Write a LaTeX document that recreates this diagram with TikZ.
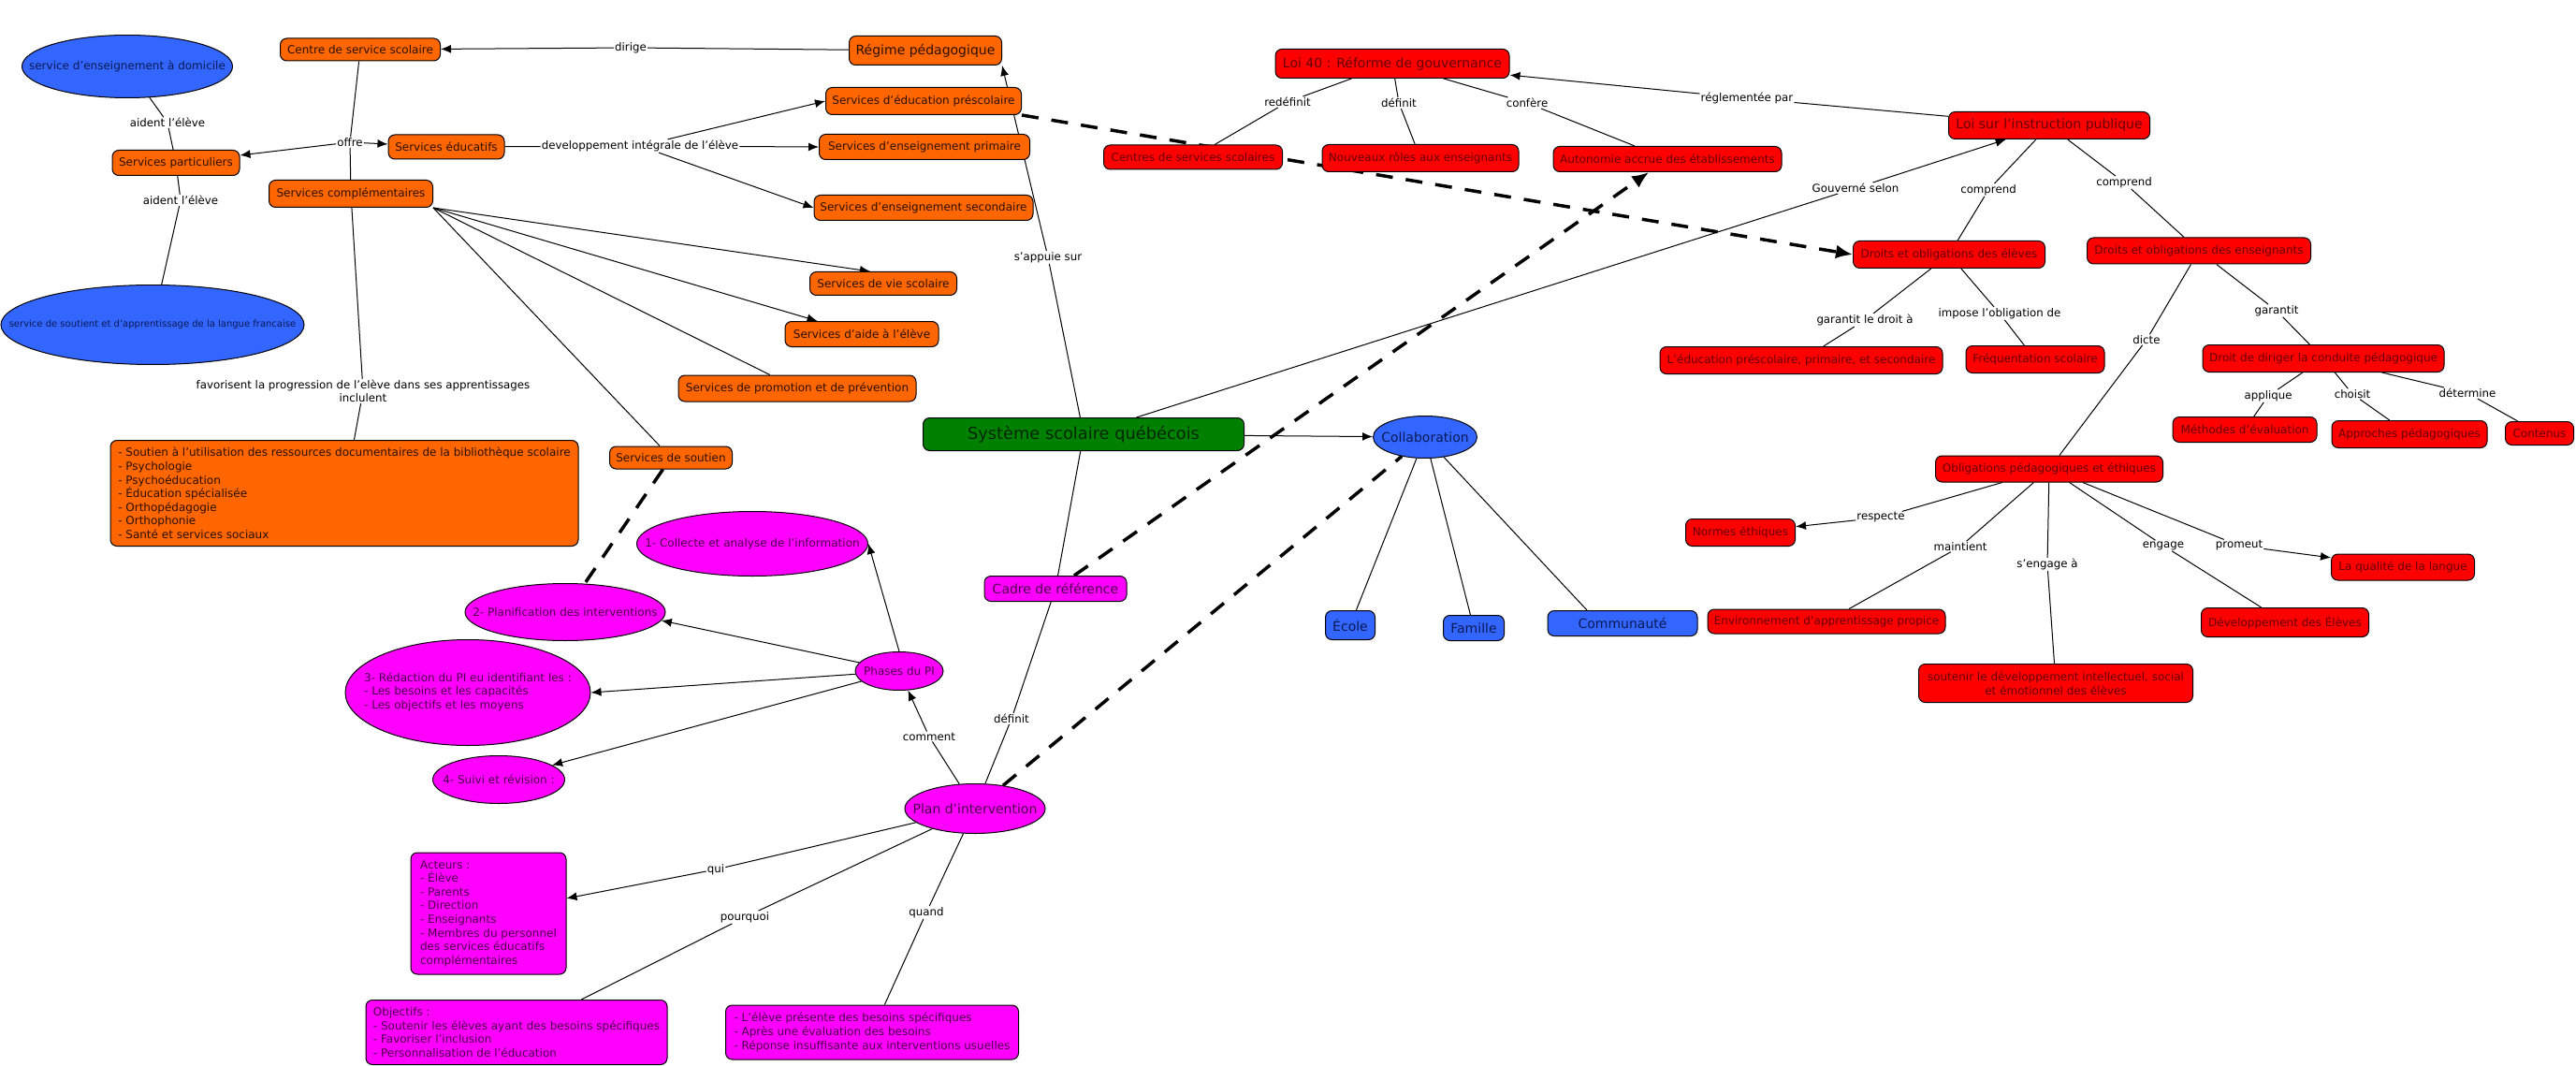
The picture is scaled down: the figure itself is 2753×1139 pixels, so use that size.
\documentclass[tikz,border=0pt]{standalone}
\usepackage{fontspec}
\setmainfont{DejaVu Sans}
\usetikzlibrary{shapes.geometric,arrows.meta}
\pgfdeclarelayer{bg}
\pgfsetlayers{bg,main}
\definecolor{orF}{HTML}{FF6600}
\definecolor{orT}{HTML}{2A1000}
\definecolor{rdF}{HTML}{FF0000}
\definecolor{rdT}{HTML}{660000}
\definecolor{blF}{HTML}{3366FF}
\definecolor{blT}{HTML}{0A1A55}
\definecolor{mgF}{HTML}{FF00FF}
\definecolor{mgT}{HTML}{4D004D}
\definecolor{grF}{HTML}{008000}
\definecolor{grT}{HTML}{002800}
\newcommand{\zb}[1]{\makebox[0pt][c]{#1}}
\newcommand{\zbl}[1]{\makebox[0pt][c]{\begin{tabular}{@{}l@{}}#1\end{tabular}}}
\tikzset{
 nbase/.style={draw=black, line width=1pt, inner sep=2pt, font=\fontsize{12}{14.6}\selectfont},
 rbox/.style={nbase, rectangle, rounded corners=7pt},
 ell/.style={nbase, ellipse, inner sep=0pt},
 obox/.style={rbox, fill=orF, text=orT},
 rdbox/.style={rbox, fill=rdF, text=rdT},
 blbox/.style={rbox, fill=blF, text=blT},
 blell/.style={ell, fill=blF, text=blT},
 mgbox/.style={rbox, fill=mgF, text=mgT},
 mgell/.style={ell, fill=mgF, text=mgT},
 bigt/.style={font=\fontsize{14}{17}\selectfont},
 lbl/.style={inner sep=1pt, font=\fontsize{11.8}{14.4}\selectfont, text=black},
 ln/.style={line width=1pt},
 arr/.style={ln, -{Latex[length=11pt,width=9pt]}},
 dsh/.style={line width=3.5pt, dash pattern=on 18pt off 14pt},
 darr/.style={dsh, -{Latex[length=18pt,width=15pt]}},
}
\begin{document}
\begin{tikzpicture}[x=1pt,y=-1pt]
\useasboundingbox (0,0) rectangle (2753,1139);
% ---------- orange ----------
\node[obox, minimum width=171, minimum height=24] (centre) at (385,53) {Centre de service scolaire};
\node[obox, bigt, minimum width=163, minimum height=31] (regime) at (989,54) {Régime pédagogique};
\node[obox, minimum width=136, minimum height=27] (partic) at (188,174) {Services particuliers};
\node[obox, minimum width=124, minimum height=26] (educ) at (477,157) {Services éducatifs};
\node[obox, minimum width=175, minimum height=29] (compl) at (375,207) {Services complémentaires};
\node[obox, minimum width=209, minimum height=29] (presco) at (987,108) {Services d’éducation préscolaire};
\node[obox, minimum width=225, minimum height=27] (primaire) at (988,157) {Services d’enseignement primaire};
\node[obox, minimum width=234, minimum height=27] (second) at (987,222) {Services d’enseignement secondaire};
\node[obox, minimum width=157, minimum height=25] (vie) at (944,303) {Services de vie scolaire};
\node[obox, minimum width=164, minimum height=27] (aide) at (921,357) {Services d'aide à l'élève};
\node[obox, minimum width=254, minimum height=28] (promo) at (852,415) {Services de promotion et de prévention};
\node[obox, minimum width=131, minimum height=24] (soutien) at (717,489) {Services de soutien};
\node[obox, minimum width=500, minimum height=113, align=left] (liste) at (368,527) {- Soutien à l'utilisation des ressources documentaires de la bibliothèque scolaire\\- Psychologie\\- Psychoéducation\\- Éducation spécialisée\\- Orthopédagogie\\- Orthophonie\\- Santé et services sociaux};
% ---------- blue ----------
\node[blell, minimum width=225, minimum height=67] (domicile) at (136,71) {\zb{service d'enseignement à domicile}};
\node[blell, minimum width=324, minimum height=85, font=\fontsize{10}{12}\selectfont] (soutient) at (163,347) {\zb{service de soutient et d'apprentissage de la langue francaise}};
\node[blell, bigt, minimum width=111, minimum height=45] (collab) at (1523,467) {\zb{Collaboration}};
\node[blbox, bigt, minimum width=53, minimum height=31] (ecole) at (1443,668) {École};
\node[blbox, bigt, minimum width=65, minimum height=27] (famille) at (1575,671) {Famille};
\node[blbox, bigt, minimum width=160, minimum height=27] (communaute) at (1734,666) {Communauté};
% ---------- green ----------
\node[rbox, fill=grF, text=grT, font=\fontsize{17.8}{20}\selectfont, minimum width=343, minimum height=35] (systeme) at (1158,464) {Système scolaire québécois};
% ---------- magenta ----------
\node[mgbox, bigt, minimum width=152, minimum height=27] (cadre) at (1128,629) {Cadre de référence};
\node[mgell, bigt, minimum width=150, minimum height=53] (plan) at (1042,864) {\zb{Plan d'intervention}};
\node[mgell, minimum width=94, minimum height=41] (phases) at (961,717) {\zb{Phases du PI}};
\node[mgell, minimum width=247, minimum height=69] (collecte) at (804,581) {\zb{1- Collecte et analyse de l'information}};
\node[mgell, minimum width=214, minimum height=61] (planif) at (604,654) {\zb{2- Planification des interventions}};
\node[mgell, minimum width=262, minimum height=113] (redaction) at (500,740) {\zbl{3- Rédaction du PI eu identifiant les :\\- Les besoins et les capacités\\- Les objectifs et les moyens}};
\node[mgell, minimum width=141, minimum height=51] (suivi) at (533,833) {\zb{4- Suivi et révision :}};
\node[mgbox, minimum width=166, minimum height=130, align=left] (acteurs) at (522,976) {Acteurs :\\- Élève\\- Parents\\- Direction\\- Enseignants\\- Membres du personnel\\des services éducatifs\\complémentaires};
\node[mgbox, minimum width=322, minimum height=69, align=left] (objectifs) at (552,1103) {Objectifs :\\- Soutenir les élèves ayant des besoins spécifiques\\- Favoriser l'inclusion\\- Personnalisation de l'éducation};
\node[mgbox, minimum width=313, minimum height=58, align=left] (quandbox) at (932,1103) {- L’élève présente des besoins spécifiques\\- Après une évaluation des besoins\\- Réponse insuffisante aux interventions usuelles};
% ---------- red ----------
\node[rdbox, bigt, minimum width=250, minimum height=31] (loi40) at (1488,68) {Loi 40 : Réforme de gouvernance};
\node[rdbox, minimum width=191, minimum height=26] (centres) at (1275,168) {Centres de services scolaires};
\node[rdbox, minimum width=210, minimum height=29] (nouveaux) at (1518,169) {Nouveaux rôles aux enseignants};
\node[rdbox, minimum width=244, minimum height=27] (autonomie) at (1782,170) {Autonomie accrue des établissements};
\node[rdbox, bigt, minimum width=215, minimum height=29] (loisur) at (2190,134) {Loi sur l'instruction publique};
\node[rdbox, minimum width=205, minimum height=29] (droitsel) at (2083,272) {Droits et obligations des élèves};
\node[rdbox, minimum width=239, minimum height=28] (droitsens) at (2350,268) {Droits et obligations des enseignants};
\node[rdbox, minimum width=302, minimum height=29] (educps) at (1925,385) {L'éducation préscolaire, primaire, et secondaire};
\node[rdbox, minimum width=148, minimum height=29] (frequent) at (2175,384) {Fréquentation scolaire};
\node[rdbox, minimum width=258, minimum height=29] (diriger) at (2483,383) {Droit de diriger la conduite pédagogique};
\node[rdbox, minimum width=154, minimum height=27] (methodes) at (2399,459) {Méthodes d'évaluation};
\node[rdbox, minimum width=166, minimum height=29] (approches) at (2575,464) {Approches pédagogiques};
\node[rdbox, minimum width=73, minimum height=25] (contenus) at (2714,463) {Contenus};
\node[rdbox, minimum width=243, minimum height=28] (oblig) at (2190,501) {Obligations pédagogiques et éthiques};
\node[rdbox, minimum width=117, minimum height=29] (normes) at (1860,569) {Normes éthiques};
\node[rdbox, minimum width=254, minimum height=26] (environ) at (1952,664) {Environnement d'apprentissage propice};
\node[rdbox, minimum width=293, minimum height=41, align=center] (soutenir) at (2197,730) {soutenir le développement intellectuel, social\\et émotionnel des élèves};
\node[rdbox, minimum width=179, minimum height=31] (devel) at (2442,665) {Développement des Élèves};
\node[rdbox, minimum width=153, minimum height=28] (qualite) at (2568,606) {La qualité de la langue};
% ---------- link labels ----------
\node[lbl] (l_dirige) at (674,51) {dirige};
\node[lbl] (l_offre) at (374,152) {offre};
\node[lbl] (l_dev) at (684,156) {developpement intégrale de l'élève};
\node[lbl] (l_aident1) at (179,131) {aident l'élève};
\node[lbl] (l_aident2) at (193,214) {aident l'élève};
\node[lbl, align=center] (l_fav) at (388,418) {favorisent la progression de l'elève dans ses apprentissages\\inclulent};
\node[lbl] (l_appuie) at (1120,275) {s'appuie sur};
\node[lbl] (l_redef) at (1376,109) {redéfinit};
\node[lbl] (l_def) at (1495,110) {définit};
\node[lbl] (l_confere) at (1632,110) {confère};
\node[lbl] (l_regl) at (1867,105) {réglementée par};
\node[lbl] (l_gouv) at (1983,201) {Gouverné selon};
\node[lbl] (l_comp1) at (2125,203) {comprend};
\node[lbl] (l_comp2) at (2270,195) {comprend};
\node[lbl] (l_garle) at (1993,342) {garantit le droit à};
\node[lbl] (l_impose) at (2137,335) {impose l'obligation de};
\node[lbl] (l_dicte) at (2294,363) {dicte};
\node[lbl] (l_garantit) at (2433,332) {garantit};
\node[lbl] (l_applique) at (2424,423) {applique};
\node[lbl] (l_choisit) at (2514,421) {choisit};
\node[lbl] (l_determine) at (2637,420) {détermine};
\node[lbl] (l_respecte) at (2010,553) {respecte};
\node[lbl] (l_maintient) at (2095,584) {maintient};
\node[lbl] (l_sengage) at (2188,603) {s'engage à};
\node[lbl] (l_engage) at (2312,583) {engage};
\node[lbl] (l_promeut) at (2393,583) {promeut};
\node[lbl] (l_comment) at (993,787) {comment};
\node[lbl] (l_definit2) at (1081,768) {définit};
\node[lbl] (l_qui) at (765,929) {qui};
\node[lbl] (l_pourquoi) at (796,980) {pourquoi};
\node[lbl] (l_quand) at (990,975) {quand};
% ---------- connectors ----------
\begin{pgfonlayer}{bg}
\fill[white] (0,0) rectangle (2753,1139);
\draw[ln] (regime) -- (l_dirige);
\draw[arr] (l_dirige) -- (centre);
\draw[ln] (centre) -- (l_offre);
\draw[arr] (l_offre) -- (partic);
\draw[arr] (l_offre) -- (educ);
\draw[ln] (l_offre) -- (compl);
\draw[ln] (domicile) -- (l_aident1);
\draw[ln] (l_aident1) -- (partic);
\draw[ln] (partic) -- (l_aident2);
\draw[ln] (l_aident2) -- (soutient);
\draw[ln] (compl) -- (l_fav);
\draw[ln] (l_fav) -- (liste);
\draw[ln] (educ) -- (l_dev);
\draw[arr] (l_dev) -- (presco.west);
\draw[arr] (l_dev) -- (primaire.west);
\draw[arr] (l_dev) -- (second.west);
\draw[arr] (compl.south east) -- ([xshift=-14pt]vie.north);
\draw[arr] (compl.south east) -- (aide);
\draw[ln] (compl.south east) -- (promo);
\draw[ln] (compl.south east) -- (soutien);
\draw[ln] (systeme) -- (l_appuie);
\draw[arr] (l_appuie) -- (regime.south east);
\draw[ln] (systeme) -- (cadre);
\draw[ln] (systeme) -- (l_gouv);
\draw[arr] (l_gouv) -- (loisur);
\draw[arr] (systeme) -- (collab);
\draw[ln] (collab) -- (ecole);
\draw[ln] (collab) -- (famille);
\draw[ln] (collab) -- ([xshift=-38pt]communaute.north);
\draw[ln] (loi40) -- (l_redef);
\draw[ln] (l_redef) -- (centres);
\draw[ln] (loi40) -- (l_def);
\draw[ln] (l_def) -- (nouveaux);
\draw[ln] (loi40) -- (l_confere);
\draw[ln] (l_confere) -- (autonomie);
\draw[ln] (loisur) -- (l_regl);
\draw[arr] (l_regl) -- (loi40);
\draw[ln] (loisur) -- (l_comp1);
\draw[ln] (l_comp1) -- (droitsel);
\draw[ln] (loisur) -- (l_comp2);
\draw[ln] (l_comp2) -- (droitsens);
\draw[ln] (droitsel) -- (l_garle);
\draw[ln] (l_garle) -- (educps);
\draw[ln] (droitsel) -- (l_impose);
\draw[ln] (l_impose) -- (frequent);
\draw[ln] (droitsens) -- (l_dicte);
\draw[ln] (l_dicte) -- (oblig);
\draw[ln] (droitsens) -- (l_garantit);
\draw[ln] (l_garantit) -- (diriger);
\draw[ln] (diriger) -- (l_applique);
\draw[ln] (l_applique) -- (methodes);
\draw[ln] (diriger) -- (l_choisit);
\draw[ln] (l_choisit) -- (approches);
\draw[ln] (diriger) -- (l_determine);
\draw[ln] (l_determine) -- (contenus);
\draw[ln] (oblig) -- (l_respecte);
\draw[arr] (l_respecte) -- (normes);
\draw[ln] (oblig) -- (l_maintient);
\draw[ln] (l_maintient) -- (environ);
\draw[ln] (oblig) -- (l_sengage);
\draw[ln] (l_sengage) -- (soutenir);
\draw[ln] (oblig) -- (l_engage);
\draw[ln] (l_engage) -- (devel);
\draw[ln] (oblig) -- (l_promeut);
\draw[arr] (l_promeut) -- (qualite);
\draw[arr] (phases.north) -- (collecte.east);
\draw[arr] (phases) -- (planif.-5);
\draw[arr] (phases) -- (redaction.east);
\draw[arr] (phases) -- (suivi);
\draw[ln] (plan) -- (l_comment);
\draw[arr] (l_comment) -- (phases);
\draw[ln] (plan) -- (l_definit2);
\draw[ln] (l_definit2) -- (cadre);
\draw[ln] (plan) -- (l_qui);
\draw[arr] (l_qui) -- (acteurs);
\draw[ln] (plan) -- (l_pourquoi);
\draw[ln] (l_pourquoi) -- (objectifs);
\draw[ln] (plan) -- (l_quand);
\draw[ln] (l_quand) -- (quandbox);
% dashed cross-links
\draw[darr] (presco.south east) -- (droitsel.west);
\draw[darr] (cadre) -- (autonomie);
\draw[dsh] (soutien) -- (planif);
\draw[dsh] (plan) -- (collab);
\end{pgfonlayer}
\end{tikzpicture}
\end{document}
